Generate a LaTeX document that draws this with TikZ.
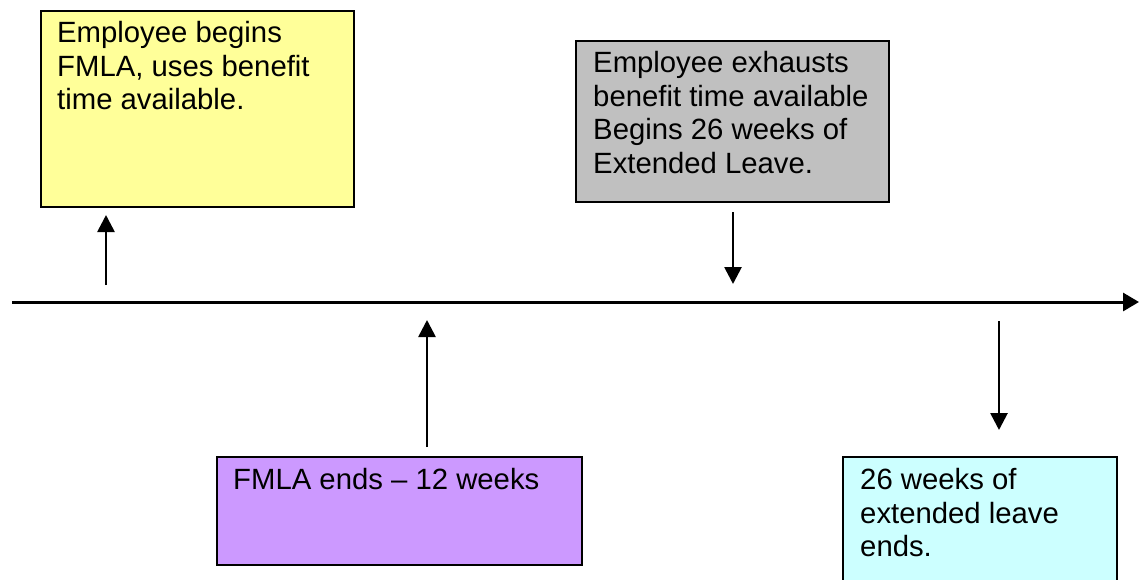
\documentclass[tikz,border=0pt]{standalone}
\usepackage{fontspec}
\setmainfont{Liberation Sans}
\usetikzlibrary{arrows.meta,calc}
\definecolor{cyellow}{HTML}{FFFF99}
\definecolor{cgray}{HTML}{C0C0C0}
\definecolor{cpurple}{HTML}{CC99FF}
\definecolor{ccyan}{HTML}{CCFFFF}
\begin{document}
\begin{tikzpicture}[x=1pt,y=-1pt,
  boxnode/.style={draw=black, line width=2.5pt, anchor=north west, inner sep=0pt, outer sep=0pt},
  txt/.style={anchor=north west, inner sep=0pt, align=left, font=\fontsize{29.3}{33.6}\selectfont},
  arr/.style={line width=2.7pt, -{Triangle[width=17pt,length=17pt]}}]
\useasboundingbox (0,0) rectangle (1139,579);
% boxes
\node[boxnode, fill=cyellow, minimum width=313pt, minimum height=196pt] (b1) at (41,11) {};
\node[boxnode, fill=cgray, minimum width=313pt, minimum height=161pt] (b2) at (576,41) {};
\node[boxnode, fill=cpurple, minimum width=365pt, minimum height=108pt] (b3) at (217,457) {};
\node[boxnode, fill=ccyan, minimum width=274pt, minimum height=140pt] (b4) at (843,457) {};
% texts
\node[txt] (t1) at (57,21) {Employee begins\\FMLA, uses benefit\\time available.};
\node[txt] (t2) at (593,51) {Employee exhausts\\benefit time available\\Begins 26 weeks of\\Extended Leave.};
\node[txt] (t3) at (233,468) {FMLA ends -- 12 weeks};
\node[txt] (t4) at (860,468) {26 weeks of\\extended leave\\ends.};
% timeline
\coordinate (l0) at (12,302);
\coordinate (l1) at (1139,302);
\draw[arr, line width=3pt, -{Triangle[width=18pt,length=16pt]}] (l0) -- (l1);
% arrows
\coordinate (a1s) at (106,285); \coordinate (a1e) at (106,215);
\coordinate (a2s) at (733,212); \coordinate (a2e) at (733,284);
\coordinate (a3s) at (427,447); \coordinate (a3e) at (427,320);
\coordinate (a4s) at (999,321); \coordinate (a4e) at (999,430);
\draw[arr] (a1s) -- (a1e);
\draw[arr] (a2s) -- (a2e);
\draw[arr] (a3s) -- (a3e);
\draw[arr] (a4s) -- (a4e);
\end{tikzpicture}
\end{document}
